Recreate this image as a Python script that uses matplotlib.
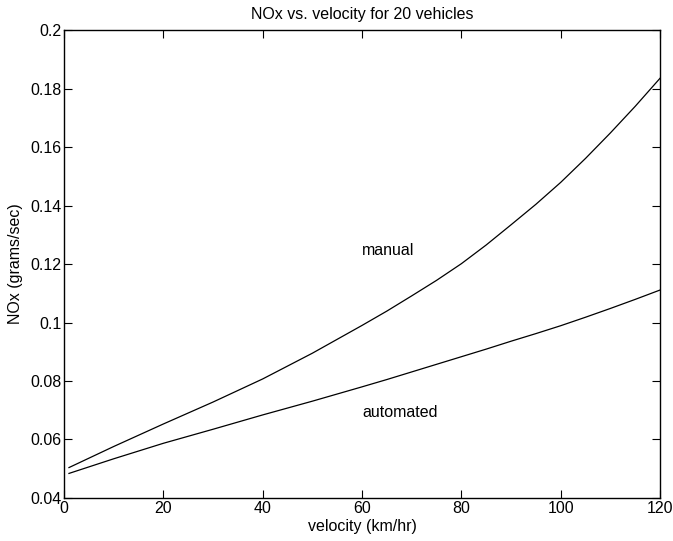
import matplotlib
matplotlib.use("Agg")
import matplotlib.pyplot as plt

velocity = [1, 10, 20, 30, 40, 50, 60, 65, 70, 75, 80, 85, 90, 95, 100,
            105, 110, 115, 120]
nox_manual = [0.0504, 0.0576, 0.0653, 0.0728, 0.0807, 0.0895, 0.0990,
              0.1039, 0.1091, 0.1144, 0.1201, 0.1265, 0.1334, 0.1404,
              0.1479, 0.1561, 0.1648, 0.1739, 0.1835]
nox_automated = [0.0484, 0.0534, 0.0587, 0.0635, 0.0684, 0.0731, 0.0780,
                 0.0805, 0.0831, 0.0857, 0.0883, 0.0909, 0.0936, 0.0962,
                 0.0989, 0.1018, 0.1048, 0.1079, 0.1111]

xticks = [0, 20, 40, 60, 80, 100, 120]
yticks = [0.04, 0.06, 0.08, 0.1, 0.12, 0.14, 0.16, 0.18, 0.2]
ytick_labels = ["0.04", "0.06", "0.08", "0.1", "0.12", "0.14", "0.16", "0.18", "0.2"]

plt.rcParams['font.family'] = ['Liberation Sans', 'DejaVu Sans']
fs = 11.5

fig = plt.figure(figsize=(6.73, 5.41), dpi=100)
ax = fig.add_axes([0.0951, 0.0795, 0.8856, 0.865])

ax.plot(velocity, nox_manual, color='black', linewidth=0.9)
ax.plot(velocity, nox_automated, color='black', linewidth=0.9)

ax.text(60, 0.1245, "manual", fontsize=fs, va='center', ha='left')
ax.text(60, 0.0692, "automated", fontsize=fs, va='center', ha='left')

ax.set_xlim(0, 120)
ax.set_ylim(0.04, 0.2)
ax.set_xticks(xticks)
ax.set_yticks(yticks)
ax.set_yticklabels(ytick_labels)
ax.tick_params(direction='in', top=True, right=True, length=6, width=0.8,
               labelsize=fs, pad=2)
for s in ax.spines.values():
    s.set_linewidth(1.0)

ax.set_xlabel("velocity (km/hr)", fontsize=fs, labelpad=2)
ax.set_ylabel("NOx (grams/sec)", fontsize=fs, labelpad=5)
ax.set_title("NOx vs. velocity for 20 vehicles", fontsize=fs, pad=8)

fig.savefig("out.png", dpi=100)
